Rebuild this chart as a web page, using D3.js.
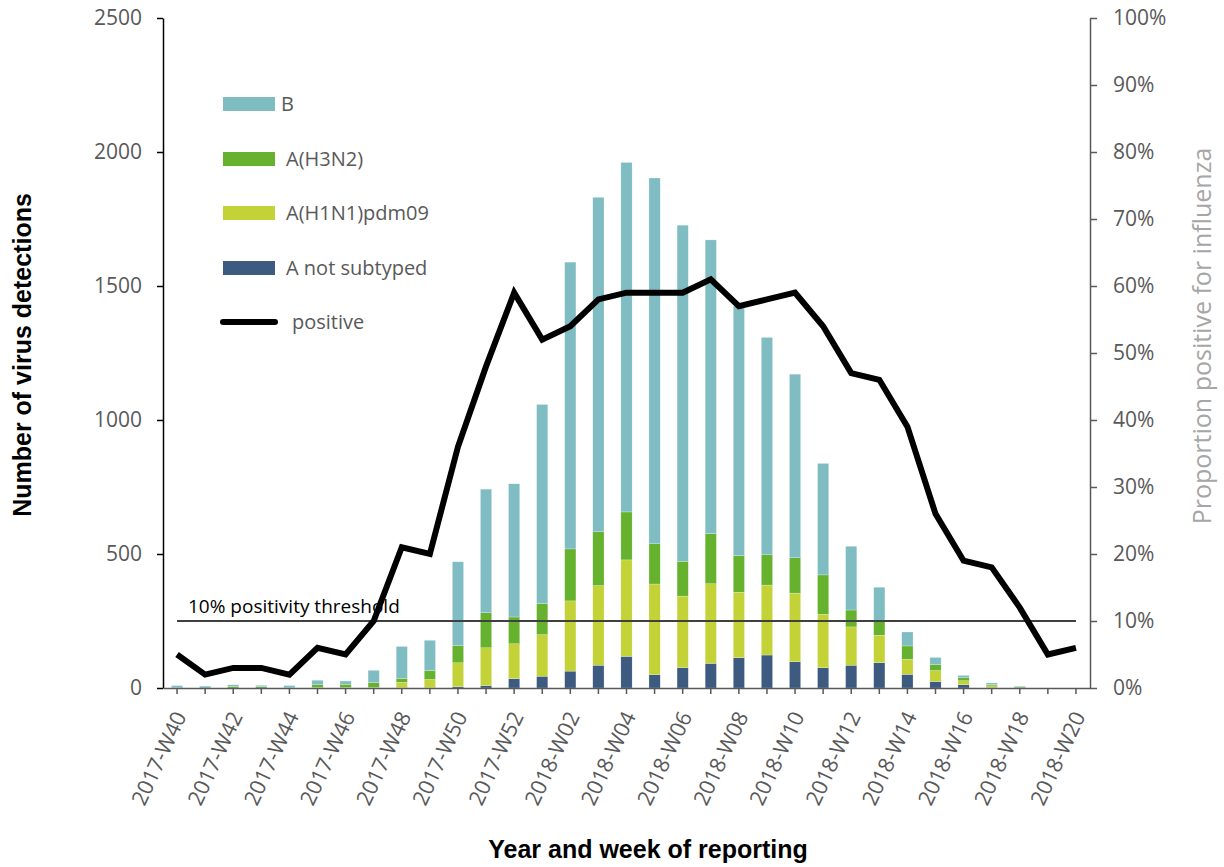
<!DOCTYPE html>
<html>
<head>
<meta charset="utf-8">
<script src="https://cdn.jsdelivr.net/npm/d3@7"></script>
<style>
  body { margin: 0; background: #fff; }
  svg text { font-family: 'Open Sans', sans-serif; }
</style>
</head>
<body>
<svg id="chart" width="1224" height="867"></svg>
<script>
// ---- data ----
const weeks = [
  "2017-W40","2017-W41","2017-W42","2017-W43","2017-W44","2017-W45","2017-W46","2017-W47",
  "2017-W48","2017-W49","2017-W50","2017-W51","2017-W52",
  "2018-W01","2018-W02","2018-W03","2018-W04","2018-W05","2018-W06","2018-W07","2018-W08",
  "2018-W09","2018-W10","2018-W11","2018-W12","2018-W13","2018-W14","2018-W15","2018-W16",
  "2018-W17","2018-W18","2018-W19","2018-W20"
];
const aNotSubtyped = [0,0,0,0,0,0,0,0,1,1,5,9,35,44,63,85,118,50,76,92,113,123,98,76,85,94,51,24,12,2,0,0,0];
const aH1N1pdm09   = [0,0,0,0,0,2,2,2,20,31,89,141,130,155,262,297,360,338,267,297,244,261,256,199,143,103,56,41,15,6,1,0,0];
const aH3N2        = [1,0,6,5,1,10,12,19,15,33,64,131,100,116,194,201,179,150,130,187,137,113,132,147,63,50,50,22,11,5,4,0,0];
const bValues      = [8,7,6,5,8,17,12,45,119,113,313,461,497,743,1070,1248,1304,1365,1254,1096,931,811,685,416,238,129,52,27,9,6,2,0,0];
const positivePct  = [5,2,3,3,2,6,5,10,21,20,36,48,59,52,54,58,59,59,59,61,57,58,59,54,47,46,39,26,19,18,12,5,6];
const thresholdPct = 10;
const tickLabels = ["2017-W40","2017-W42","2017-W44","2017-W46","2017-W48","2017-W50","2017-W52",
  "2018-W02","2018-W04","2018-W06","2018-W08","2018-W10","2018-W12","2018-W14","2018-W16","2018-W18","2018-W20"];
const leftTicks = [0,500,1000,1500,2000,2500];
const rightTicks = [0,10,20,30,40,50,60,70,80,90,100];
const seriesKeys = ["notSub","h1n1","h3n2","b"];
const seriesNames = ["A not subtyped","A(H1N1)pdm09","A(H3N2)","B"];
const seriesColors = ["#3D5A81","#C3D236","#66B22E","#7FBDC3"];

// ---- layout ----
const svg = d3.select("#chart");
const L = 163, R = 1090, T = 18, B = 688;

const x = d3.scaleBand().domain(weeks).range([L, R]).paddingInner(0.6).paddingOuter(0.3);
const yL = d3.scaleLinear().domain([0, 2500]).range([B, T]);
const yR = d3.scaleLinear().domain([0, 100]).range([B, T]);
const cx = d => x(d) + x.bandwidth() / 2;

const rows = weeks.map((w, i) => ({week: w, notSub: aNotSubtyped[i], h1n1: aH1N1pdm09[i], h3n2: aH3N2[i], b: bValues[i]}));
const stacked = d3.stack().keys(seriesKeys)(rows);

// bars
svg.append("g").selectAll("g").data(stacked).join("g")
  .attr("fill", (d, i) => seriesColors[i])
  .selectAll("rect").data(d => d).join("rect")
  .attr("x", d => x(d.data.week))
  .attr("width", x.bandwidth())
  .attr("y", d => yL(d[1]))
  .attr("height", d => Math.max(0, yL(d[0]) - yL(d[1])))
  .attr("stroke", "#ffffff").attr("stroke-width", 0.4).attr("stroke-opacity", 0.6);

// threshold line
svg.append("path")
  .datum(weeks)
  .attr("fill", "none").attr("stroke", "#404040").attr("stroke-width", 2.2)
  .attr("d", d3.line().x(w => cx(w)).y(() => yR(thresholdPct)));
svg.append("text").attr("x", 188).attr("y", 613)
  .attr("font-size", 19).attr("fill", "#000").text("10% positivity threshold");

// axes
const axL = svg.append("g").attr("transform", `translate(${L},0)`)
  .call(d3.axisLeft(yL).tickValues(leftTicks).tickFormat(d3.format("d")).tickSize(6).tickSizeOuter(0).tickPadding(15));
axL.selectAll("path,line").attr("stroke", "#000").attr("stroke-width", 1.5);
axL.selectAll("text").attr("font-size", 21).attr("fill", "#595959").attr("font-family", "'Open Sans', sans-serif");

const axR = svg.append("g").attr("transform", `translate(${R},0)`)
  .call(d3.axisRight(yR).tickValues(rightTicks).tickFormat(d => d + "%").tickSize(7).tickSizeOuter(0).tickPadding(16));
axR.selectAll("path,line").attr("stroke", "#595959").attr("stroke-width", 1.5);
axR.selectAll("text").attr("font-size", 21).attr("fill", "#595959").attr("font-family", "'Open Sans', sans-serif");

const axB = svg.append("g").attr("transform", `translate(0,${B})`)
  .call(d3.axisBottom(x).tickSize(6).tickSizeOuter(0).tickFormat(d => tickLabels.includes(d) ? d : ""));
axB.select("path").attr("stroke", "#595959").attr("stroke-width", 1.5);
axB.selectAll("line").attr("stroke", "#595959").attr("stroke-width", 1.5);
axB.selectAll("text")
  .attr("font-size", 21.5).attr("fill", "#595959").attr("font-family", "'Open Sans', sans-serif")
  .attr("text-anchor", "end")
  .attr("dy", null).attr("y", null)
  .attr("transform", "translate(10,28) rotate(-65)");

// positive line
svg.append("path")
  .datum(positivePct)
  .attr("fill", "none").attr("stroke", "#000").attr("stroke-width", 6)
  .attr("d", d3.line().x((d, i) => cx(weeks[i])).y(d => yR(d)));

// titles
svg.append("text").attr("transform", "translate(31,355) rotate(-90)")
  .attr("text-anchor", "middle").attr("font-size", 25).attr("font-weight", "bold")
  .style("font-family", "'Liberation Sans', Arial, sans-serif").attr("fill", "#000")
  .text("Number of virus detections");
svg.append("text").attr("transform", "translate(1211,336) rotate(-90)")
  .attr("text-anchor", "middle").attr("font-size", 25).attr("fill", "#A6A6A6")
  .text("Proportion positive for influenza");
svg.append("text").attr("x", 648).attr("y", 858)
  .attr("text-anchor", "middle").attr("font-size", 25).attr("font-weight", "bold")
  .style("font-family", "'Liberation Sans', Arial, sans-serif").attr("fill", "#000")
  .text("Year and week of reporting");

// legend
const legendItems = [
  {name: seriesNames[3], color: seriesColors[3], y: 104, tx: 281},
  {name: seriesNames[2], color: seriesColors[2], y: 159, tx: 286},
  {name: seriesNames[1], color: seriesColors[1], y: 213, tx: 286},
  {name: seriesNames[0], color: seriesColors[0], y: 268, tx: 286}
];
const lg = svg.append("g");
legendItems.forEach(it => {
  lg.append("rect").attr("x", 223).attr("y", it.y - 7).attr("width", 52).attr("height", 14).attr("fill", it.color);
  lg.append("text").attr("x", it.tx).attr("y", it.y + 7).attr("font-size", 20).attr("fill", "#595959").text(it.name);
});
lg.append("line").attr("x1", 223).attr("x2", 275).attr("y1", 322).attr("y2", 322)
  .attr("stroke", "#000").attr("stroke-width", 6).attr("stroke-linecap", "round");
lg.append("text").attr("x", 292).attr("y", 329).attr("font-size", 20).attr("fill", "#595959").text("positive");
</script>
</body>
</html>
